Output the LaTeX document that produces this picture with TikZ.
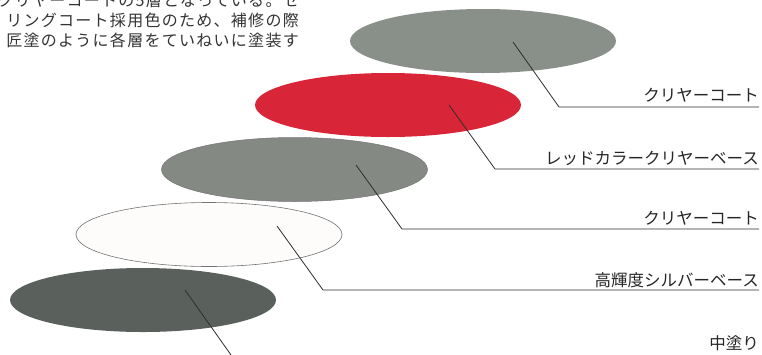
\documentclass[tikz,border=0pt]{standalone}
\usepackage{fontspec}
\newfontfamily\jpfont{Noto Sans CJK JP}
\newfontfamily\jpspaced[LetterSpace=8]{Noto Sans CJK JP}
\usetikzlibrary{shapes.geometric,calc}
\definecolor{clearA}{HTML}{889089}
\definecolor{redbase}{HTML}{D82537}
\definecolor{clearB}{HTML}{848983}
\definecolor{silver}{HTML}{FEFCFA}
\definecolor{midcoat}{HTML}{5A615D}
\definecolor{leader}{HTML}{2E2E2E}
\definecolor{txt}{HTML}{262626}
\begin{document}
\begin{tikzpicture}[x=1pt,y=-1pt,
  layer/.style={ellipse,minimum width=266pt,minimum height=64pt,inner sep=0pt},
  leaderline/.style={draw=leader,line width=0.8pt},
  lbl/.style={anchor=base east,inner sep=0pt,text=txt,font=\jpfont\fontsize{16.5}{20}\selectfont},
  para/.style={anchor=base east,inner sep=0pt,text=black!80,font=\jpspaced\fontsize{16}{20}\selectfont}]
\useasboundingbox (0,0) rectangle (762,354);
\clip (0,0) rectangle (762,354);

% paragraph (cropped)
\node[para] (p1) at (299,6) {クリヤーコートの5層となっている。セ};
\node[para] (p2) at (299,26) {リングコート採用色のため、補修の際};
\node[para] (p3) at (299,46) {匠塗のように各層をていねいに塗装す};

% layers
\node[layer,fill=clearA] (e1) at (483,41) {};
\node[layer,fill=redbase] (e2) at (388,105) {};
\node[layer,fill=clearB,draw=black!55,line width=0.5pt] (e3) at (294.5,169.5) {};
\node[layer,fill=silver,draw=black!55,line width=0.6pt] (e4) at (209,234.5) {};
\node[layer,fill=midcoat] (e5) at (143,300) {};

% leader points
\coordinate (s1) at (513,42);  \coordinate (b1) at (559,107); \coordinate (t1) at (759,107);
\coordinate (s2) at (449,105); \coordinate (b2) at (495,169); \coordinate (t2) at (759,169);
\coordinate (s3) at (356,165); \coordinate (b3) at (402,229); \coordinate (t3) at (759,229);
\coordinate (s4) at (277,226); \coordinate (b4) at (323,290); \coordinate (t4) at (759,290);
\coordinate (s5) at (185,290); \coordinate (b5) at (236,362);

\draw[leaderline] (s1) -- (b1) -- (t1);
\draw[leaderline] (s2) -- (b2) -- (t2);
\draw[leaderline] (s3) -- (b3) -- (t3);
\draw[leaderline] (s4) -- (b4) -- (t4);
\draw[leaderline] (s5) -- (b5);

% labels
\node[lbl] (l1) at (759,101) {クリヤーコート};
\node[lbl] (l2) at (759,164) {レッドカラークリヤーベース};
\node[lbl] (l3) at (759,224) {クリヤーコート};
\node[lbl] (l4) at (759,286) {高輝度シルバーベース};
\node[lbl] (l5) at (759,349) {中塗り};
\end{tikzpicture}
\end{document}
